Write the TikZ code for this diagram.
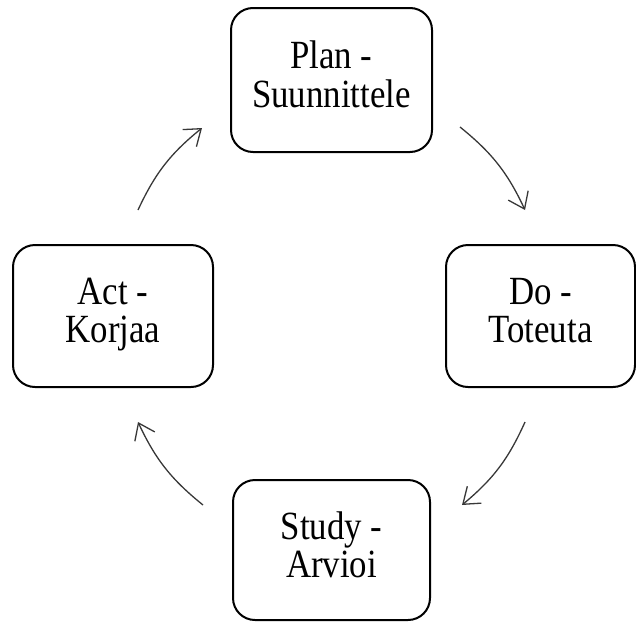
\documentclass[tikz,border=0pt]{standalone}
\usepackage{fontspec}
\usepackage{graphicx}
\setmainfont{Liberation Serif}
\usetikzlibrary{arrows.meta}

% two centred lines of narrow serif text
\newcommand{\cyclelabel}[2]{\scalebox{0.87}[1]{\fontsize{40}{37}\selectfont
  \begin{tabular}{@{}c@{}}#1\\#2\end{tabular}}}

\tikzset{
  phasebox/.style={draw=black, line width=2pt, rounded corners=22pt,
    fill=white, inner sep=0pt, align=center},
  cyclearrow/.style={draw=black!78, line width=1.3pt,
    -{Straight Barb[length=15pt,width=22pt,line width=1.3pt]},
    bend left=13}
}

\begin{document}
\begin{tikzpicture}[x=1pt,y=-1pt]
  \useasboundingbox (0,0) rectangle (636,624);

  % the four phases
  \node[phasebox, minimum width=201pt, minimum height=144pt] (plan)  at (331.5,80)  {\cyclelabel{Plan -}{Suunnittele}};
  \node[phasebox, minimum width=189pt, minimum height=142pt] (do)    at (540.5,316) {\cyclelabel{Do -}{Toteuta}};
  \node[phasebox, minimum width=197pt, minimum height=140pt] (study) at (331.5,550) {\cyclelabel{Study -}{Arvioi}};
  \node[phasebox, minimum width=200pt, minimum height=142pt] (act)   at (113,316)   {\cyclelabel{Act -}{Korjaa}};

  % arc end points between the phases
  \coordinate (actout)   at (138,210);
  \coordinate (planin)   at (202,128);
  \coordinate (planout)  at (460,127);
  \coordinate (doin)     at (525,210);
  \coordinate (doout)    at (525,422);
  \coordinate (studyin)  at (462,505);
  \coordinate (studyout) at (203,505);
  \coordinate (actin)    at (138,422);

  % clockwise cycle arrows
  \draw[cyclearrow] (actout)   to (planin);
  \draw[cyclearrow] (planout)  to (doin);
  \draw[cyclearrow] (doout)    to (studyin);
  \draw[cyclearrow] (studyout) to (actin);
\end{tikzpicture}
\end{document}
